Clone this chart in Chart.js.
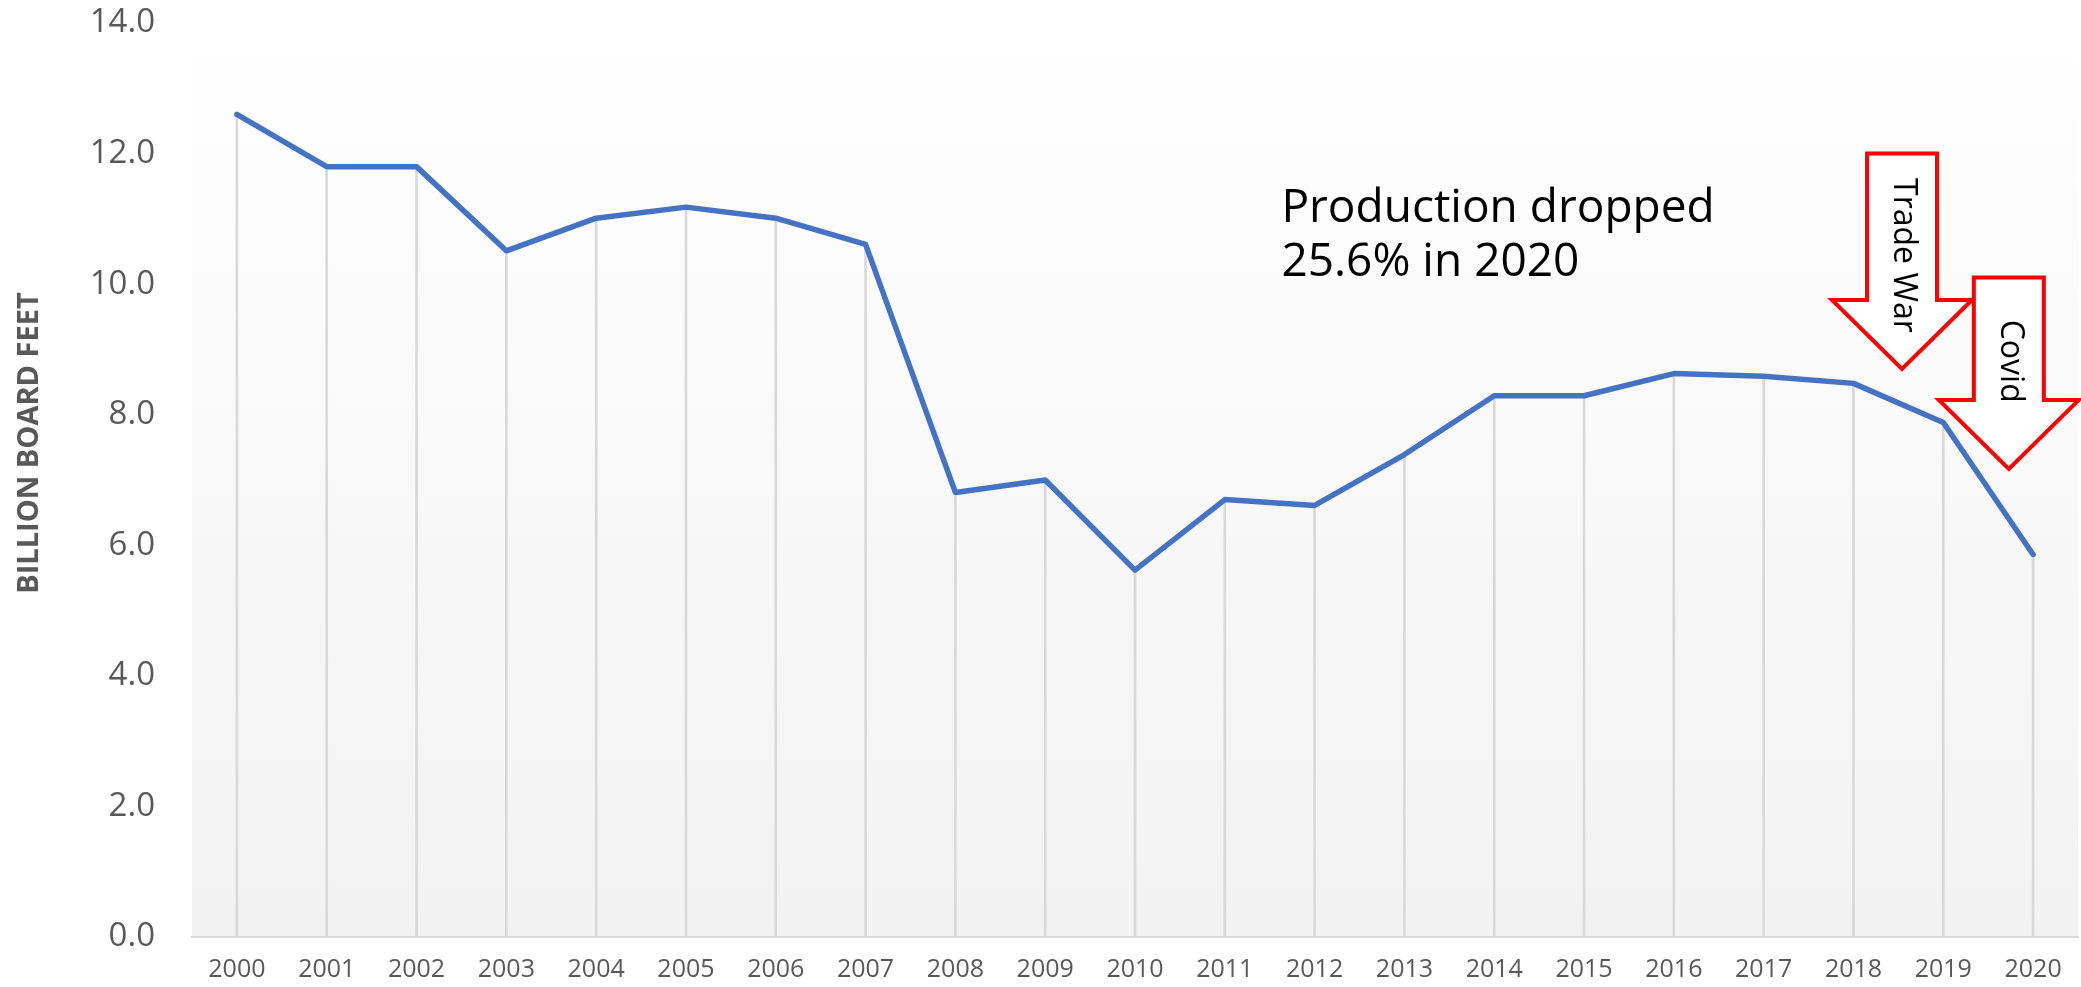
<!DOCTYPE html>
<html>
<head>
<meta charset="utf-8">
<script src="https://cdn.jsdelivr.net/npm/chart.js@4.4.1/dist/chart.umd.min.js"></script>
<style>
  body { margin: 0; background: #fff; }
  #wrap { width: 2081px; height: 987px; position: relative; }
</style>
</head>
<body>
<div id="wrap"><canvas id="chart"></canvas></div>
<script>
// values (billion board feet)
const years = ['2000', '2001', '2002', '2003', '2004', '2005', '2006', '2007', '2008', '2009', '2010',
               '2011', '2012', '2013', '2014', '2015', '2016', '2017', '2018', '2019', '2020'];
const production = [12.60, 11.80, 11.80, 10.51, 11.01, 11.18, 11.01, 10.61, 6.81, 7.00, 5.62,
                    6.70, 6.61, 7.39, 8.29, 8.29, 8.63, 8.59, 8.48, 7.88, 5.86];
const yTicks = [0, 2, 4, 6, 8, 10, 12, 14];
const yTitle = 'BILLION BOARD FEET';

// annotations, placed in data units (x = category index, y = value)
const noteLines = ['Production dropped', '25.6% in 2020'];
const noteAt = { x: 11.63, y: 10.95 };
const arrowLabels = ['Trade War', 'Covid'];
const arrowTipX = [18.54, 19.73];
const arrowTop = [12.0, 10.1];
const arrowTip = [8.7, 7.17];
const arrowTextY = [10.44, 8.82];

Chart.defaults.font.family = "'Open Sans', sans-serif";

const backdrop = {
    id: 'backdrop',
    beforeDraw(chart) {
        const { ctx, chartArea: a } = chart;
        const g = ctx.createLinearGradient(0, a.top, 0, a.bottom);
        g.addColorStop(0, '#ffffff');
        g.addColorStop(1, '#f2f2f2');
        ctx.save();
        ctx.fillStyle = g;
        ctx.fillRect(a.left, a.top, a.right - a.left, a.bottom - a.top);
        ctx.restore();
    }
};

const extras = {
    id: 'extras',
    afterDraw(chart) {
        const { ctx, scales: { x, y } } = chart;
        ctx.save();

        // y axis title
        ctx.translate(30, (y.getPixelForValue(14) + y.getPixelForValue(0)) / 2 - 37);
        ctx.rotate(-Math.PI / 2);
        ctx.font = "bold 29px 'Open Sans'";
        ctx.fillStyle = '#595959';
        ctx.textAlign = 'center';
        ctx.textBaseline = 'middle';
        ctx.fillText(yTitle, 0, 0);
        ctx.setTransform(1, 0, 0, 1, 0, 0);

        // text note
        ctx.font = "46px 'Open Sans'";
        ctx.fillStyle = '#000';
        ctx.textAlign = 'left';
        ctx.textBaseline = 'alphabetic';
        const nx = x.getPixelForValue(noteAt.x);
        const ny = y.getPixelForValue(noteAt.y);
        noteLines.forEach((t, i) => ctx.fillText(t, nx, ny + i * 54));

        // arrows
        arrowLabels.forEach((label, i) => {
            const tx = x.getPixelForValue(arrowTipX[i]);
            const ty = y.getPixelForValue(arrowTip[i]);
            const top = y.getPixelForValue(arrowTop[i]);
            const hb = ty - 69;
            ctx.beginPath();
            ctx.moveTo(tx - 35, top);
            ctx.lineTo(tx + 35, top);
            ctx.lineTo(tx + 35, hb);
            ctx.lineTo(tx + 70, hb);
            ctx.lineTo(tx, ty);
            ctx.lineTo(tx - 70, hb);
            ctx.lineTo(tx - 35, hb);
            ctx.closePath();
            ctx.fillStyle = '#ffffff';
            ctx.fill();
            ctx.lineWidth = 4;
            ctx.strokeStyle = '#ff0000';
            ctx.lineJoin = 'miter';
            ctx.stroke();

            ctx.save();
            ctx.translate(tx + 1, y.getPixelForValue(arrowTextY[i]));
            ctx.rotate(Math.PI / 2);
            ctx.font = "32px 'Open Sans'";
            ctx.fillStyle = '#000';
            ctx.textAlign = 'center';
            ctx.textBaseline = 'middle';
            ctx.fillText(label, 0, 0);
            ctx.restore();
        });
        ctx.restore();
    }
};

new Chart(document.getElementById('chart'), {
    type: 'bar',
    data: {
        labels: years,
        datasets: [
            {
                type: 'line',
                label: 'Production',
                data: production,
                borderColor: '#4472c4',
                borderWidth: 5.5,
                borderJoinStyle: 'round',
                borderCapStyle: 'round',
                pointRadius: 0,
                tension: 0,
                order: 1
            },
            {
                label: 'drop lines',
                data: production,
                backgroundColor: '#d9d9d9',
                barThickness: 2,
                borderWidth: 0,
                order: 2
            }
        ]
    },
    options: {
        responsive: true,
        maintainAspectRatio: false,
        animation: false,
        layout: { padding: { top: 0, right: 3, left: 0, bottom: 0 } },
        plugins: {
            legend: { display: false },
            tooltip: { enabled: false }
        },
        scales: {
            x: {
                offset: true,
                grid: { display: false, drawTicks: false },
                border: { display: true, color: '#d9d9d9', width: 2 },
                ticks: { color: '#595959', font: { size: 25 }, padding: 18, maxRotation: 0 },
                afterFit: s => { s.height = 50; }
            },
            y: {
                min: 0,
                max: 14,
                grid: { display: false, drawTicks: false },
                border: { display: false },
                afterBuildTicks: s => { s.ticks = yTicks.map(v => ({ value: v })); },
                ticks: {
                    color: '#595959',
                    font: { size: 33 },
                    padding: 37,
                    callback: v => v.toFixed(1)
                },
                afterFit: s => {
                    s.width = 192;
                    s.paddingTop = 23;
                    s.paddingBottom = 20;
                }
            }
        }
    },
    plugins: [backdrop, extras]
});
</script>
</body>
</html>
